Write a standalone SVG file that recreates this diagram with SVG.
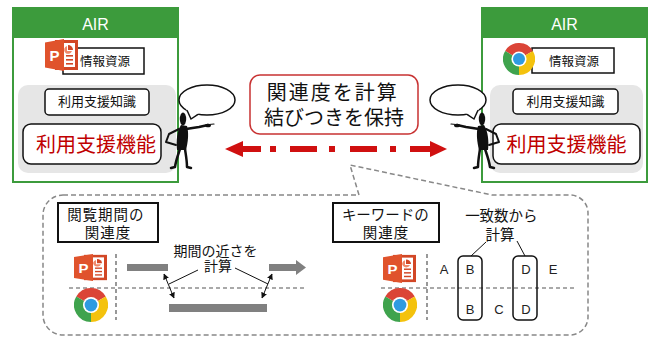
<svg xmlns="http://www.w3.org/2000/svg" width="652" height="338" viewBox="0 0 652 338">
  <style>
    .jp { font-family: "Noto Sans CJK JP", "Noto Sans", sans-serif; fill: #111; text-anchor: middle; }
    .lat { font-family: "Liberation Sans", Arial, sans-serif; text-anchor: middle; }
    .air-frame { fill: #fff; stroke: #3C9B3C; stroke-width: 2; }
    .air-head { fill: #3C9B3C; }
    .air-title { font-family: "Liberation Sans", Arial, sans-serif; font-size: 16px; fill: #fff; text-anchor: middle; }
    .pad { fill: #E6E6E6; }
    .box { fill: #fff; stroke: #111; stroke-width: 1.5; }
    .func { fill: #fff; stroke: #111; stroke-width: 1.5; }
    .func-text { fill: #C00000; font-size: 20px; }
    .label-box { fill: #fff; stroke: #111; stroke-width: 2; }
    .grid { stroke: #555; stroke-width: 1.2; stroke-dasharray: 4 3; fill: none; }
    .bar { fill: #808080; }
    .thin { stroke: #111; stroke-width: 1; fill: none; }
    .redarrow { fill: #D01010; }
    .ink { fill: #111; }
    .limb { stroke: #111; fill: none; stroke-linecap: round; stroke-linejoin: round; }
  </style>
  <defs>
    <marker id="tip" viewBox="0 0 10 10" refX="9" refY="5" markerWidth="6" markerHeight="6" orient="auto-start-reverse">
      <path d="M0,0 L10,5 L0,10 Z" fill="#111"/>
    </marker>
    <!-- presentation app icon -->
    <symbol id="ppt" viewBox="0 0 33 32" preserveAspectRatio="none">
      <rect x="10" y="1" width="23" height="30" fill="#D24726"/>
      <rect x="19" y="4" width="11" height="24" fill="#fff"/>
      <path d="M23,6 L23,11 L28,11 A5,5 0 0 0 23,6 Z" fill="#D24726"/>
      <path d="M22,7 A4,4 0 1 0 27,12 L22,12 Z" fill="#F08A6C"/>
      <rect x="21" y="16" width="7" height="1.6" fill="#D24726"/>
      <rect x="21" y="20" width="7" height="1.6" fill="#D24726"/>
      <rect x="21" y="24" width="7" height="1.6" fill="#D24726"/>
      <polygon points="0,3.5 19,0 19,32 0,28.5" fill="#E0532C"/>
      <text x="9.5" y="22" font-family="Liberation Sans, Arial, sans-serif" font-weight="bold" font-size="15" fill="#fff" text-anchor="middle">P</text>
    </symbol>
    <!-- browser icon -->
    <symbol id="chrome" viewBox="-16 -16 32 32">
      <path d="M0,0 L13.86,-8 A16,16 0 0 0 -13.86,-8 Z" fill="#DB4437"/>
      <path d="M0,0 L-13.86,-8 A16,16 0 0 0 0,16 Z" fill="#3FA34D"/>
      <path d="M0,0 L0,16 A16,16 0 0 0 13.86,-8 Z" fill="#F4C20D"/>
      <circle r="7.6" fill="#fff"/>
      <circle r="6" fill="#2F9BE0"/>
    </symbol>
    <!-- pointing figure with empty speech bubble -->
    <g id="figure">
      <ellipse cx="207" cy="100" rx="28" ry="15" fill="#fff" stroke="#111" stroke-width="1.5"/>
      <polygon points="186,109 191,119 199,113" fill="#fff"/>
      <polyline points="187,110.3 191,119 198,114.3" fill="none" stroke="#111" stroke-width="1.5"/>
      <ellipse cx="183" cy="119" rx="3.2" ry="6.5" class="ink"/>
      <path d="M181,125 C177,131 176,141 177,150 L186,150 C188,142 189,133 187,126 Z" class="ink"/>
      <path d="M186,129 L199,127 L208,125" class="limb" stroke-width="2.5"/>
      <ellipse cx="208" cy="125.5" rx="3" ry="1.8" class="ink"/>
      <path d="M209,124.5 L214,124" class="limb" stroke-width="1.2"/>
      <path d="M179,129 L169,134 L166,142 L176,145" class="limb" stroke-width="2"/>
      <path d="M180,149 C178,155 176,160 175,167 L171,168" class="limb" stroke-width="2.5"/>
      <path d="M185,149 C186,156 187,161 187,167 L191,168" class="limb" stroke-width="2.5"/>
    </g>
  </defs>

  <!-- left AIR -->
  <g id="air-left">
    <rect x="13" y="8" width="165" height="174" class="air-frame"/>
    <rect x="13" y="8" width="165" height="30" class="air-head"/>
    <text x="95.5" y="30" class="air-title">AIR</text>
    <rect x="18" y="85" width="158" height="88" rx="10" class="pad"/>
    <g id="info-left">
      <rect x="63" y="48" width="81" height="26" class="box"/>
      <text x="105" y="66" class="jp" font-size="12.5">情報資源</text>
      <use href="#ppt" x="45" y="39" width="33" height="32"/>
    </g>
    <g id="knowledge-left">
      <rect x="45" y="89" width="104" height="26" rx="4" class="box"/>
      <text x="97" y="106" class="jp" font-size="13">利用支援知識</text>
    </g>
    <g id="function-left">
      <rect x="23" y="124" width="138" height="40" rx="8" class="func"/>
      <text x="96" y="152" class="jp func-text">利用支援機能</text>
    </g>
  </g>

  <!-- right AIR -->
  <g id="air-right">
    <rect x="482" y="8" width="165" height="174" class="air-frame"/>
    <rect x="482" y="8" width="165" height="30" class="air-head"/>
    <text x="564.5" y="30" class="air-title">AIR</text>
    <rect x="490" y="85" width="153" height="88" rx="10" class="pad"/>
    <g id="info-right">
      <rect x="532" y="48" width="82" height="25" class="box"/>
      <text x="574" y="66" class="jp" font-size="12.5">情報資源</text>
      <use href="#chrome" x="503" y="43" width="32" height="32"/>
    </g>
    <g id="knowledge-right">
      <rect x="513" y="89" width="105" height="25" rx="4" class="box"/>
      <text x="565.5" y="106" class="jp" font-size="13">利用支援知識</text>
    </g>
    <g id="function-right">
      <rect x="493" y="124" width="147" height="40" rx="8" class="func"/>
      <text x="566.5" y="152" class="jp func-text">利用支援機能</text>
    </g>
  </g>

  <!-- figures -->
  <g id="agent-left">
    <use href="#figure"/>
  </g>
  <g id="agent-right">
    <use href="#figure" transform="translate(665,0) scale(-1,1)"/>
  </g>

  <!-- relation label -->
  <g id="relation">
    <rect x="250" y="75" width="168" height="59" rx="10" fill="#fff" stroke="#C83232" stroke-width="1.5"/>
    <text class="jp" font-size="20">
      <tspan x="335" y="100" letter-spacing="2">関連度を計算</tspan>
      <tspan x="334" y="125">結びつきを保持</tspan>
    </text>
  </g>

  <!-- detail callout -->
  <g id="detail">
    <path d="M63,195 L359,195 L350,165 L492,195 L570,195 A18,18 0 0 1 588,213 L588,317 A18,18 0 0 1 570,335 L63,335 A20,20 0 0 1 43,315 L43,215 A20,20 0 0 1 63,195 Z" fill="#fff" stroke="#888" stroke-width="1.5" stroke-dasharray="5 3"/>

    <g id="period">
      <rect x="58" y="203" width="100" height="39" class="label-box"/>
      <text class="jp" font-size="14.5" letter-spacing="1">
        <tspan x="108" y="220">閲覧期間の</tspan>
        <tspan x="108" y="238">関連度</tspan>
      </text>
      <line x1="116" y1="254" x2="116" y2="320" class="grid"/>
      <line x1="69" y1="288" x2="307" y2="288" class="grid"/>
      <use href="#ppt" x="74" y="254" width="33" height="27"/>
      <use href="#chrome" x="74" y="288" width="34" height="34"/>
      <rect x="127" y="264" width="41" height="7" class="bar"/>
      <rect x="269" y="264" width="28" height="7" class="bar"/>
      <polygon points="296,260 306,267.5 296,275" class="bar"/>
      <rect x="169" y="304" width="98" height="8" class="bar"/>
      <text class="jp" font-size="14">
        <tspan x="217" y="256">期間の近さを</tspan>
        <tspan x="218" y="271">計算</tspan>
      </text>
    </g>

    <g id="keyword">
      <rect x="333" y="203" width="106" height="39" class="label-box"/>
      <text class="jp" font-size="14.5">
        <tspan x="387" y="220">キーワードの</tspan>
        <tspan x="386" y="238" letter-spacing="1">関連度</tspan>
      </text>
      <line x1="427" y1="254" x2="427" y2="320" class="grid"/>
      <line x1="381" y1="288" x2="577" y2="288" class="grid"/>
      <use href="#ppt" x="383" y="254" width="33" height="29"/>
      <use href="#chrome" x="383" y="288" width="34" height="34"/>
      <rect x="458" y="256" width="24" height="64" rx="5" fill="none" stroke="#111" stroke-width="1.5"/>
      <rect x="513" y="256" width="24" height="64" rx="5" fill="none" stroke="#111" stroke-width="1.5"/>
      <text class="jp" font-size="14.5">
        <tspan x="503" y="221">一致数から</tspan>
        <tspan x="500" y="240">計算</tspan>
      </text>
      <g class="lat" font-size="13" fill="#222">
        <text x="444" y="274">A</text>
        <text x="470" y="274">B</text>
        <text x="526" y="274">D</text>
        <text x="553" y="274">E</text>
        <text x="470" y="314">B</text>
        <text x="499" y="314">C</text>
        <text x="526" y="314">D</text>
      </g>
    </g>
  </g>

  <!-- connectors -->
  <g id="connectors">
    <g id="link-arrow" class="redarrow">
      <polygon points="225,149 243,141 243,157"/>
      <rect x="242" y="146" width="19" height="6"/>
      <rect x="270" y="146" width="6" height="6"/>
      <rect x="290" y="146" width="27" height="6"/>
      <rect x="329" y="146" width="6" height="6"/>
      <rect x="350" y="146" width="27" height="6"/>
      <rect x="390" y="146" width="6" height="6"/>
      <rect x="410" y="146" width="21" height="6"/>
      <polygon points="430,141 447,149 430,157"/>
    </g>
    <line x1="164" y1="274" x2="174" y2="298" class="thin" marker-start="url(#tip)" marker-end="url(#tip)"/>
    <line x1="272" y1="274" x2="262" y2="298" class="thin" marker-start="url(#tip)" marker-end="url(#tip)"/>
    <line x1="198" y1="270" x2="169" y2="284" class="thin"/>
    <line x1="235" y1="268" x2="268" y2="284" class="thin"/>
    <line x1="486" y1="242" x2="471" y2="256" class="thin"/>
    <line x1="517" y1="241" x2="525" y2="256" class="thin"/>
  </g>
</svg>
